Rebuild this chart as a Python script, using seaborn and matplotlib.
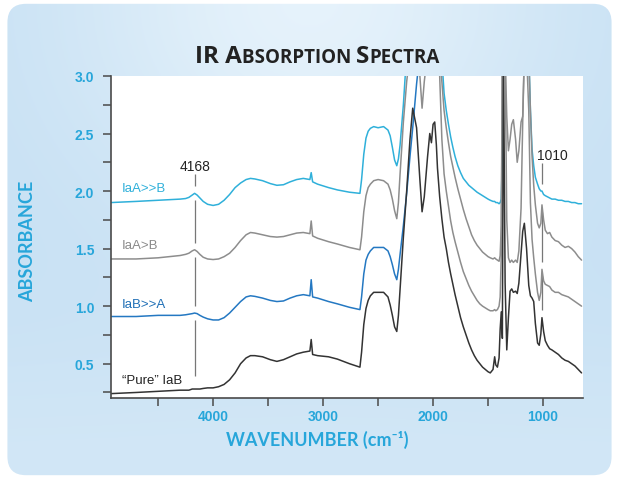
import numpy as np
import pandas as pd
import matplotlib.pyplot as plt
import seaborn as sns
from matplotlib.patches import FancyBboxPatch
from matplotlib.offsetbox import TextArea, HPacker, AnchoredOffsetbox
from matplotlib.ticker import FixedLocator, MultipleLocator

# wavenumber grid (cm-1), high -> low
wavenumber = [
    4930, 4700, 4500, 4300, 4250, 4220, 4190, 4168, 4145, 4120,
    4090, 4050, 4000, 3950, 3900, 3850, 3800, 3750, 3700, 3660,
    3620, 3550, 3480, 3420, 3360, 3300, 3240, 3180, 3120, 3108,
    3095, 3050, 2950, 2870, 2760, 2665, 2650, 2630, 2610, 2590,
    2570, 2540, 2500, 2450, 2410, 2390, 2370, 2350, 2330, 2315,
    2300, 2270, 2240, 2210, 2185, 2150, 2120, 2100, 2080, 2050,
    2030, 2015, 2000, 1985, 1970, 1960, 1940, 1920, 1900, 1880,
    1860, 1840, 1820, 1800, 1775, 1750, 1725, 1700, 1675, 1650,
    1625, 1600, 1575, 1550, 1525, 1500, 1480, 1455, 1440, 1430,
    1415, 1400, 1390, 1380, 1370, 1360, 1345, 1330, 1315, 1300,
    1285, 1270, 1250, 1235, 1220, 1200, 1185, 1170, 1150, 1130,
    1115, 1100, 1085, 1070, 1050, 1035, 1020, 1010, 995, 980,
    960, 940, 920, 890, 860, 830, 800, 770, 740, 710,
    680, 650]

# absorbance of each sample (3.2 = off the top of the plot)
iaa_much_b = [
    1.90, 1.91, 1.92, 1.93, 1.935, 1.945, 1.965, 1.98, 1.965, 1.94,
    1.91, 1.885, 1.875, 1.885, 1.92, 1.97, 2.03, 2.07, 2.10, 2.11,
    2.105, 2.09, 2.065, 2.05, 2.055, 2.08, 2.10, 2.11, 2.10, 2.16,
    2.08, 2.06, 2.03, 2.01, 1.99, 1.98, 2.10, 2.32, 2.46, 2.52,
    2.545, 2.56, 2.55, 2.56, 2.53, 2.48, 2.38, 2.27, 2.22, 2.28,
    2.40, 2.75, 3.2, 3.2, 3.2, 3.2, 3.2, 3.2, 3.2, 3.2,
    3.2, 3.2, 3.2, 3.2, 3.2, 3.2, 3.2, 3.15, 2.85, 2.70,
    2.58, 2.47, 2.38, 2.30, 2.22, 2.16, 2.11, 2.08, 2.05, 2.03,
    2.01, 1.99, 1.975, 1.96, 1.945, 1.93, 1.92, 1.91, 1.91, 1.90,
    1.90, 1.89, 1.90, 1.93, 2.3, 3.2, 3.2, 3.2, 3.2, 3.2,
    3.2, 3.2, 3.2, 3.2, 3.2, 3.2, 3.2, 3.2, 3.2, 3.2,
    2.7, 2.36, 2.22, 2.12, 2.06, 2.02, 2.00, 2.00, 1.97, 1.96,
    1.95, 1.94, 1.93, 1.93, 1.92, 1.92, 1.91, 1.91, 1.90, 1.90,
    1.89, 1.89]

iaa_more_b = [
    1.41, 1.41, 1.42, 1.44, 1.45, 1.46, 1.48, 1.49, 1.475, 1.45,
    1.425, 1.41, 1.405, 1.41, 1.43, 1.46, 1.51, 1.57, 1.62, 1.64,
    1.635, 1.62, 1.605, 1.60, 1.605, 1.62, 1.635, 1.64, 1.63, 1.74,
    1.61, 1.59, 1.56, 1.54, 1.51, 1.49, 1.60, 1.82, 1.96, 2.03,
    2.06, 2.09, 2.10, 2.09, 2.06, 2.01, 1.93, 1.83, 1.76, 1.90,
    2.15, 2.60, 2.95, 3.2, 3.2, 3.2, 3.0, 2.72, 2.95, 3.2,
    3.2, 3.2, 3.2, 3.2, 3.2, 3.2, 3.2, 2.95, 2.70, 2.55,
    2.42, 2.30, 2.21, 2.12, 2.02, 1.93, 1.84, 1.76, 1.69, 1.62,
    1.57, 1.53, 1.50, 1.47, 1.45, 1.43, 1.42, 1.41, 1.42, 1.41,
    1.40, 1.39, 1.44, 1.70, 3.2, 3.2, 3.2, 2.65, 2.35, 2.45,
    2.58, 2.62, 2.45, 2.25, 2.35, 2.60, 2.65, 3.2, 3.2, 3.2,
    2.7, 2.30, 2.05, 1.88, 1.72, 1.68, 1.72, 1.88, 1.75, 1.66,
    1.63, 1.64, 1.60, 1.57, 1.56, 1.53, 1.51, 1.52, 1.50, 1.47,
    1.43, 1.40]

iab_much_a = [
    0.91, 0.91, 0.92, 0.92, 0.925, 0.93, 0.935, 0.94, 0.935, 0.92,
    0.905, 0.89, 0.88, 0.88, 0.90, 0.94, 0.99, 1.04, 1.08, 1.09,
    1.085, 1.07, 1.05, 1.04, 1.045, 1.07, 1.09, 1.10, 1.09, 1.23,
    1.08, 1.07, 1.04, 1.02, 0.99, 0.97, 1.08, 1.28, 1.40, 1.45,
    1.48, 1.51, 1.51, 1.51, 1.48, 1.43, 1.36, 1.28, 1.23, 1.32,
    1.45, 1.70, 1.98, 2.30, 2.55, 2.93, 3.2, 3.2, 3.2, 3.2,
    3.2, 3.2, 3.2, 3.2, 3.2, 3.2, 3.0, 2.45, 2.15, 2.00,
    1.87, 1.74, 1.64, 1.56, 1.47, 1.38, 1.30, 1.24, 1.18, 1.13,
    1.09, 1.05, 1.02, 1.00, 0.985, 0.97, 0.96, 0.96, 0.97, 0.96,
    0.97, 1.00, 1.08, 1.45, 3.2, 3.2, 3.2, 1.75, 1.42, 1.38,
    1.40, 1.38, 1.40, 1.38, 1.48, 1.85, 2.6, 3.2, 3.2, 2.7,
    1.90, 1.58, 1.42, 1.28, 1.12, 1.05, 1.12, 1.32, 1.22, 1.19,
    1.18, 1.17, 1.14, 1.12, 1.12, 1.10, 1.09, 1.08, 1.06, 1.04,
    1.02, 1.00]

pure_iab = [
    0.24, 0.25, 0.26, 0.27, 0.27, 0.27, 0.28, 0.28, 0.28, 0.28,
    0.285, 0.29, 0.29, 0.30, 0.32, 0.36, 0.42, 0.50, 0.55, 0.57,
    0.57, 0.56, 0.535, 0.52, 0.535, 0.56, 0.585, 0.60, 0.61, 0.71,
    0.58, 0.57, 0.56, 0.54, 0.50, 0.47, 0.60, 0.84, 0.98, 1.05,
    1.09, 1.12, 1.12, 1.12, 1.08, 1.01, 0.92, 0.82, 0.78, 0.92,
    1.15, 1.60, 2.00, 2.45, 2.72, 2.55, 2.10, 1.82, 1.95, 2.30,
    2.50, 2.42, 2.58, 2.60, 2.40, 2.20, 1.95, 1.76, 1.60, 1.50,
    1.38, 1.28, 1.19, 1.10, 1.00, 0.90, 0.82, 0.75, 0.68, 0.62,
    0.57, 0.53, 0.50, 0.47, 0.45, 0.43, 0.42, 0.45, 0.56, 0.49,
    0.47, 0.55, 0.80, 0.95, 0.72, 3.2, 1.2, 0.62, 0.90, 1.13,
    1.15, 1.12, 1.13, 1.11, 1.20, 1.45, 1.65, 1.72, 1.50, 1.18,
    1.09, 1.07, 1.04, 0.85, 0.68, 0.66, 0.76, 0.90, 0.78, 0.70,
    0.66, 0.63, 0.62, 0.60, 0.58, 0.55, 0.53, 0.52, 0.50, 0.48,
    0.45, 0.42]

series_labels = ["IaA>>B", "IaA>B", "IaB>>A", "\u201cPure\u201d IaB"]
label_heights = [2.03, 1.53, 1.02, 0.36]
x_ticks = [4000, 3000, 2000, 1000]
marked_peaks = [4168, 1010]

CYAN = "#2fb0da"
GRAY = "#8d8d8d"
BLUE = "#2478c2"
DARK = "#333333"
AXIS = "#4a4a4a"
TICKTXT = "#27a6da"

df = pd.DataFrame({"wavenumber": wavenumber, "IaA>>B": iaa_much_b,
                   "IaA>B": iaa_more_b, "IaB>>A": iab_much_a,
                   "Pure IaB": pure_iab})

sns.set_theme(style="ticks")
plt.rcParams["font.family"] = ["Liberation Sans", "DejaVu Sans"]

fig = plt.figure(figsize=(6.19, 4.81), dpi=100)
fig.patch.set_facecolor("white")

# soft blue rounded panel behind everything
bg = fig.add_axes([0, 0, 1, 1], zorder=-10)
bg.set_xlim(0, 1)
bg.set_ylim(0, 1)
bg.axis("off")
yy, xx = np.mgrid[0:1:240j, 0:1:300j]
t = np.exp(-(((xx - 0.5) / 0.38) ** 2 + ((yy - 1.0) / 0.45) ** 2))
t = np.clip(t + 0.35 * np.exp(-((yy - 0.0) / 0.3) ** 2), 0, 1)
edge = np.array([0.78, 0.88, 0.955])
light = np.array([0.90, 0.95, 0.985])
img = edge + (light - edge) * t[..., None]
im = bg.imshow(img, extent=(0, 1, 0, 1), origin="lower", aspect="auto")
panel = FancyBboxPatch((0.012, 0.01), 0.976, 0.98,
                       boxstyle="round,pad=0,rounding_size=0.03",
                       mutation_aspect=619 / 481, transform=bg.transAxes,
                       facecolor="none", edgecolor="none")
bg.add_patch(panel)
im.set_clip_path(panel)

ax = fig.add_axes([0.179, 0.170, 0.763, 0.670])
ax.set_facecolor("white")

line_kw = dict(lw=1.1, sort=False, estimator=None, ax=ax)
sns.lineplot(data=df, x="wavenumber", y="IaA>>B", color=CYAN, **line_kw)
sns.lineplot(data=df, x="wavenumber", y="IaA>B", color=GRAY, **line_kw)
# the IaB>>A trace turns grey past its big band
blue_part = df[df["wavenumber"] >= 2050]
grey_part = df[df["wavenumber"] <= 2050]
sns.lineplot(data=blue_part, x="wavenumber", y="IaB>>A", color=BLUE, **line_kw)
sns.lineplot(data=grey_part, x="wavenumber", y="IaB>>A", color=GRAY, **line_kw)
sns.lineplot(data=df, x="wavenumber", y="Pure IaB", color=DARK, **line_kw)

# marker lines at 4168 and 1010, broken where they meet a trace
spans = {4168: (2.15, 0.39), 1010: (2.24, 0.97)}
for wn in marked_peaks:
    top, bottom = spans[wn]
    row = df[df["wavenumber"] == wn].iloc[0]
    cuts = sorted([row[c] for c in ["IaA>>B", "IaA>B", "IaB>>A", "Pure IaB"]
                   if bottom < row[c] < top], reverse=True)
    edges = [top]
    for c in cuts:
        edges += [c + 0.06, c - 0.06]
    edges.append(bottom)
    for hi, lo in zip(edges[0::2], edges[1::2]):
        if hi > lo:
            ax.vlines(wn, lo, hi, color="#777777", lw=0.9, zorder=1)

ax.text(4168, 2.22, "4168", ha="center", va="center", fontsize=10, color="#222222")
ax.text(918, 2.31, "1010", ha="center", va="center", fontsize=10, color="#222222")

label_colors = [CYAN, "#8a8a8a", "#1f6fb6", "#222222"]
for txt, h, c in zip(series_labels, label_heights, label_colors):
    ax.text(4827, h, txt, ha="left", va="center", fontsize=9.5, color=c)

ax.set_xlim(4930, 636)
ax.set_ylim(0.2, 3.0)
ax.set_xlabel("")
ax.set_ylabel("")
ax.xaxis.set_major_locator(FixedLocator(x_ticks))
ax.xaxis.set_minor_locator(MultipleLocator(500))
ax.yaxis.set_major_locator(MultipleLocator(0.5))
ax.yaxis.set_minor_locator(MultipleLocator(0.25))
ax.yaxis.set_major_formatter(plt.FuncFormatter(lambda v, p: f"{v:.1f}"))
ax.tick_params(which="both", direction="out", length=6, width=1.1, color=AXIS)
ax.tick_params(axis="y", pad=6)
ax.tick_params(axis="x", pad=2)
for lab in ax.get_xticklabels() + ax.get_yticklabels():
    lab.set_fontfamily(["Liberation Sans Narrow", "Liberation Sans"])
    lab.set_fontweight("bold")
    lab.set_fontsize(10)
    lab.set_color(TICKTXT)
sns.despine(ax=ax)
for side in ["left", "bottom"]:
    ax.spines[side].set_color(AXIS)
    ax.spines[side].set_linewidth(1.2)

# small-caps style title
big = dict(fontsize=17.5, fontweight="bold", color="#222222", family="Open Sans")
small = dict(fontsize=13.5, fontweight="bold", color="#222222", family="Open Sans")
title = HPacker(children=[TextArea("IR A", textprops=big),
                          TextArea("BSORPTION ", textprops=small),
                          TextArea("S", textprops=big),
                          TextArea("PECTRA", textprops=small)],
                align="baseline", pad=0, sep=0)
fig.add_artist(AnchoredOffsetbox(loc="center", child=title, frameon=False,
                                 bbox_to_anchor=(317 / 619, 1 - 57 / 481),
                                 bbox_transform=fig.transFigure, pad=0))

fig.text(317 / 619, 1 - 440 / 481, "WAVENUMBER (cm\u207b\u00b9)", ha="center",
         va="center", fontsize=13, fontweight="bold", color=TICKTXT,
         family=["Lato", "DejaVu Sans"])
fig.text(28 / 619, 1 - 241 / 481, "ABSORBANCE", rotation=90, ha="center",
         va="center", fontsize=13, fontweight="bold", color=TICKTXT,
         family=["Lato", "DejaVu Sans"])

fig.savefig("out.png", dpi=100)
